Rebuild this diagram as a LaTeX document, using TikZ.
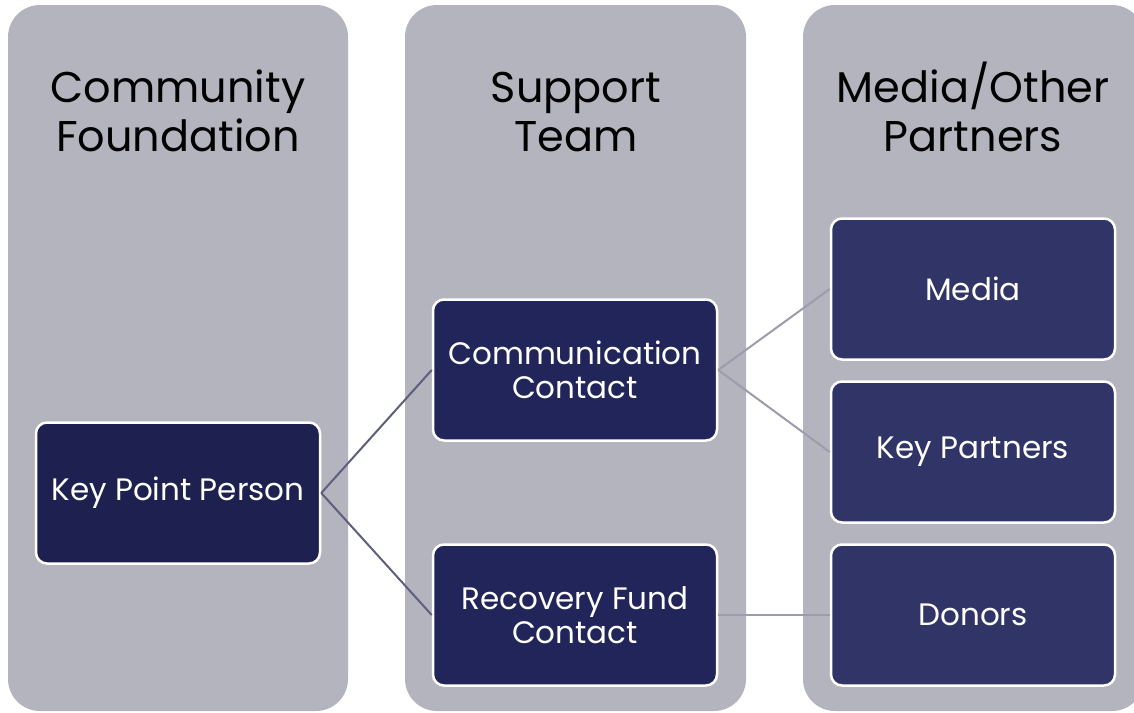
\documentclass[tikz,border=0pt]{standalone}
\usepackage{fontspec}
\setmainfont{Poppins}
\definecolor{colfill}{HTML}{B4B4BE}
\definecolor{navyA}{HTML}{1E2150}
\definecolor{navyB}{HTML}{22255A}
\definecolor{navyC}{HTML}{313467}
\definecolor{lineA}{HTML}{5E5F7E}
\definecolor{lineB}{HTML}{9C9CAC}
\begin{document}
\begin{tikzpicture}[x=1pt,y=-1pt,
  column/.style={fill=colfill,draw=none,rounded corners=32pt},
  header/.style={font=\fontsize{43}{49}\selectfont,align=center,text=black,anchor=base},
  box/.style={draw=white,line width=2.5pt,rounded corners=11pt,minimum width=284pt,minimum height=141pt,text=white,align=center,font=\fontsize{31}{34}\selectfont},
  linkA/.style={draw=lineA,line width=2pt},
  linkB/.style={draw=lineB,line width=2pt}]
\useasboundingbox (0,0) rectangle (1134,712);
\clip (0,0) rectangle (1134,712);
\fill[column] (8,5) rectangle (348,711);
\fill[column] (405,5) rectangle (746,711);
\fill[column] (803,5) rectangle (1144,711);
\node[header] (h1) at (178,151) {Community\\Foundation};
\node[header] (h2) at (576,151) {Support\\Team};
\node[header] (h3) at (973,151) {Media/Other\\Partners};
\node[box,fill=navyA] (kpp) at (178,493) {Key Point Person};
\node[box,fill=navyB] (cc) at (575,370) {Communication\\Contact};
\node[box,fill=navyB] (rfc) at (575,615) {Recovery Fund\\Contact};
\node[box,fill=navyC] (media) at (973,289) {Media};
\node[box,fill=navyC] (kp) at (973,452) {Key Partners};
\node[box,fill=navyC] (don) at (973,615) {Donors};
\draw[linkA] (kpp.east) -- (cc.west);
\draw[linkA] (kpp.east) -- (rfc.west);
\draw[linkB] (cc.east) -- (media.west);
\draw[linkB] (cc.east) -- (kp.west);
\draw[linkB] (rfc.east) -- (don.west);
\end{tikzpicture}
\end{document}
